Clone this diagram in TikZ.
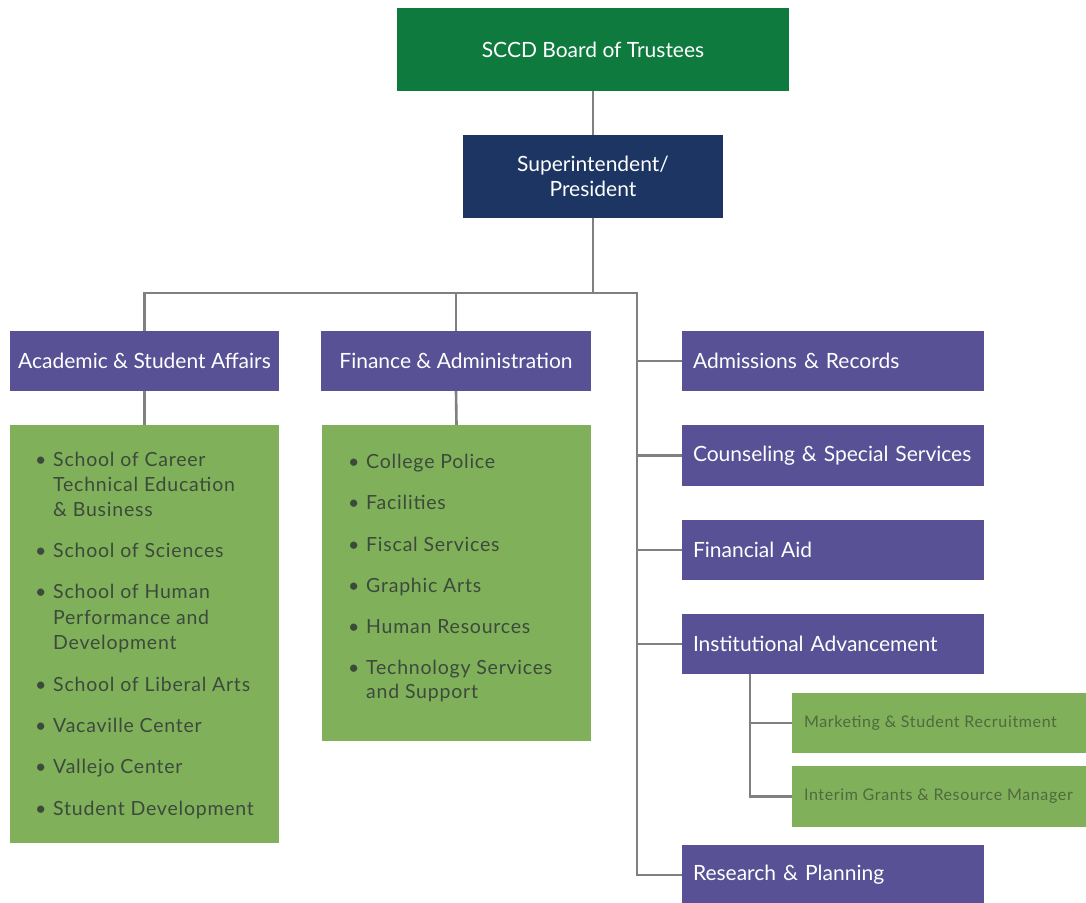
\documentclass[tikz,border=0pt]{standalone}
\usepackage{fontspec}
\setmainfont{Lato}
\newfontfamily\listfont[LetterSpace=4.0]{Lato}
\newcommand{\bul}{\makebox[23pt][l]{\hspace{5pt}\textbullet}}
\begin{document}
\begin{tikzpicture}[x=1pt,y=-1pt,
  box/.style={rectangle, inner sep=0pt, text=white, font=\fontsize{21}{25}\selectfont},
  topbox/.style={box, fill=boardgreen},
  navybox/.style={box, fill=navy, align=center},
  pbox/.style={box, fill=purp},
  lbox/.style={rectangle, inner sep=0pt, fill=lgreen},
  subbox/.style={rectangle, inner sep=0pt, fill=lgreen, text=subtext, font=\listfont\fontsize{16}{19}\selectfont},
  itm/.style={anchor=base west, inner sep=0pt, text=listtext, font=\listfont\fontsize{19.5}{23}\selectfont},
  conn/.style={draw=linegrey, line width=2.6pt}
]
\definecolor{boardgreen}{HTML}{0E7A3E}
\definecolor{navy}{HTML}{1C3562}
\definecolor{purp}{HTML}{595195}
\definecolor{lgreen}{HTML}{80B05A}
\definecolor{listtext}{HTML}{3C4A3C}
\definecolor{subtext}{HTML}{50693F}
\definecolor{linegrey}{HTML}{808080}

\useasboundingbox (0,0) rectangle (1086,902);
\fill[white] (0,0) rectangle (1086,902);

% top boxes
\node[topbox, minimum width=392pt, minimum height=83pt] (board) at (593,49.5) {SCCD Board of Trustees};
\node[navybox, minimum width=260pt, minimum height=83pt] (sup) at (593,176.5) {Superintendent/\\President};

% left headers
\node[pbox, minimum width=269pt, minimum height=60pt] (asa) at (144.5,361) {Academic \& Student Affairs};
\node[pbox, minimum width=270pt, minimum height=60pt] (fin) at (456,361) {Finance \& Administration};

% right column
\node[pbox, minimum width=302pt, minimum height=60pt, text width=280pt, align=left] (adm) at (833,361) {Admissions \& Records};
\node[pbox, minimum width=302pt, minimum height=61pt, text width=280pt, align=left] (cou) at (833,455.5) {Counseling \& Special Services};
\node[pbox, minimum width=302pt, minimum height=60pt, text width=280pt, align=left] (aid) at (833,550) {Financial Aid};
\node[pbox, minimum width=302pt, minimum height=60pt, text width=280pt, align=left] (ins) at (833,644) {Institutional Advancement};
\node[pbox, minimum width=302pt, minimum height=60pt, text width=280pt, align=left] (res) at (833,875) {Research \& Planning};

% sub boxes under Institutional Advancement
\node[subbox, minimum width=294pt, minimum height=60pt] (mkt) at (939,723) {};
\node[subbox, minimum width=294pt, minimum height=61pt] (grt) at (939,796.5) {};
\node[subbox, anchor=west] (mktt) at ([xshift=12pt]mkt.west) {Marketing \& Student Recruitment};
\node[subbox, anchor=west] (grtt) at ([xshift=12pt]grt.west) {Interim Grants \& Resource Manager};

% green list boxes
\node[lbox, minimum width=269pt, minimum height=418pt] (alist) at (144.5,634) {};
\node[lbox, minimum width=269pt, minimum height=316pt] (flist) at (456.5,583) {};

% academic list
\node[itm] (a1) at (30,466) {\bul School of Career};
\node[itm] (a1b) at (53,491) {Technical Education};
\node[itm] (a1c) at (53,516) {\& Business};
\node[itm] (a2) at (30,557) {\bul School of Sciences};
\node[itm] (a3) at (30,598) {\bul School of Human};
\node[itm] (a3b) at (53,624) {Performance and};
\node[itm] (a3c) at (53,649) {Development};
\node[itm] (a4) at (30,691) {\bul School of Liberal Arts};
\node[itm] (a5) at (30,732) {\bul Vacaville Center};
\node[itm] (a6) at (30,773) {\bul Vallejo Center};
\node[itm] (a7) at (30,815) {\bul Student Development};

% finance list
\node[itm] (f1) at (343,468) {\bul College Police};
\node[itm] (f2) at (343,509) {\bul Facilities};
\node[itm] (f3) at (343,551) {\bul Fiscal Services};
\node[itm] (f4) at (343,592) {\bul Graphic Arts};
\node[itm] (f5) at (343,633) {\bul Human Resources};
\node[itm] (f6) at (343,674) {\bul Technology Services};
\node[itm] (f6b) at (366,698) {and Support};

% connectors
\coordinate (tr) at (637,293);
\coordinate (ib) at (750,674);
\draw[conn] (board.south) -- (sup.north);
\draw[conn] (sup.south) -- (sup.south |- tr);
\draw[conn] (asa.north) |- (tr) -- (tr |- res.west) -- (res.west);
\draw[conn] (fin.north) -- (fin.north |- tr);
\draw[conn] (asa.south) -- (alist.north);
\draw[conn] (fin.south) -- (flist.north);
\draw[conn] (tr |- adm.west) -- (adm.west);
\draw[conn] (tr |- cou.west) -- (cou.west);
\draw[conn] (tr |- aid.west) -- (aid.west);
\draw[conn] (tr |- ins.west) -- (ins.west);
\draw[conn] (ib) |- (grt.west);
\draw[conn] (ib |- mkt.west) -- (mkt.west);
\end{tikzpicture}
\end{document}
